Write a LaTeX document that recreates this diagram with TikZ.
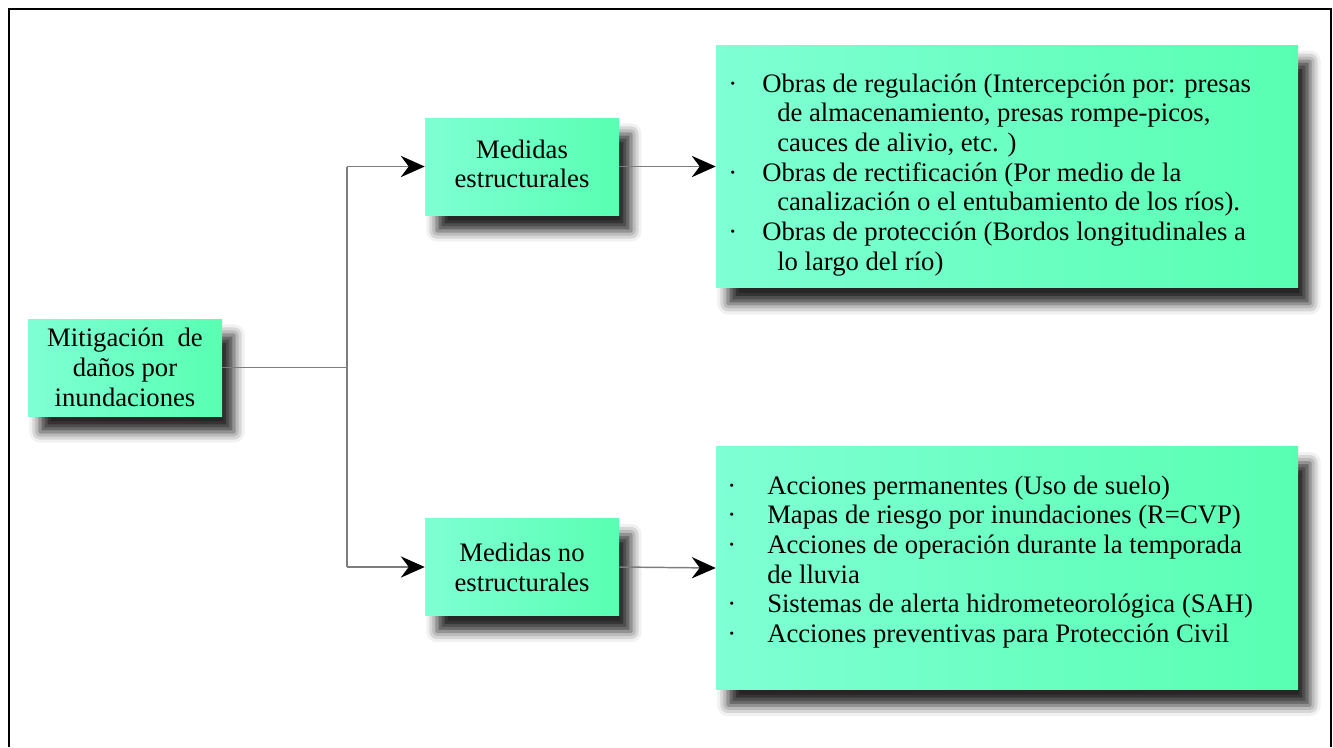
\documentclass[tikz,border=0pt]{standalone}
\usepackage{fontspec}
\setmainfont{Liberation Serif}
\usetikzlibrary{arrows.meta,shadows.blur}
\definecolor{gl}{RGB}{127,255,212}
\definecolor{gr}{RGB}{88,255,178}
\definecolor{conn}{RGB}{125,125,125}
\begin{document}
\begin{tikzpicture}[x=0.75pt,y=-0.75pt,
  box/.style={rectangle, inner sep=0pt, left color=gl, right color=gr, draw=none,
    blur shadow={shadow xshift=9pt, shadow yshift=-12pt, shadow blur radius=8pt, shadow opacity=85},
    align=center, font=\fontsize{20}{22.3}\selectfont},
  smallbox/.style={box, minimum width=145.5pt, minimum height=72.75pt},
  bigbox/.style={box, minimum width=436.5pt, minimum height=182pt},
  txt/.style={inner sep=0pt, anchor=base west, font=\fontsize{20}{22.3}\selectfont},
  conline/.style={draw=conn, line width=1.1pt},
  arr/.style={conline, -{Stealth[length=18pt,width=16pt,inset=6pt,black]}}
]
\useasboundingbox (0,0) rectangle (1333,747);
\draw[line width=2pt] (9,747) -- (9,9) -- (1331,9) -- (1331,747);

\node[smallbox] (root) at (125,367.5) {Mitigación\ \ de\\daños por\\inundaciones};
\node[smallbox] (m1) at (522,166.5) {Medidas\\estructurales\rule[-4pt]{0pt}{1pt}};
\node[smallbox] (m2) at (522,567) {Medidas no\\estructurales};
\node[bigbox] (r1) at (1007,166.5) {};
\node[bigbox] (r2) at (1007,568) {};

\node[txt] (t1) at (728,92) {\begin{tabular}[t]{@{}p{25.5pt}@{}l@{}}
· & Obras de regulación (Intercepción por: presas\\
  & \hspace*{11.25pt}de almacenamiento, presas rompe-picos,\\
  & \hspace*{11.25pt}cauces de alivio, etc. )\\
· & Obras de rectificación (Por medio de la\\
  & \hspace*{11.25pt}canalización o el entubamiento de los ríos).\\
· & Obras de protección (Bordos longitudinales a\\
  & \hspace*{11.25pt}lo largo del río)
\end{tabular}};

\node[txt] (t2) at (727,494) {\begin{tabular}[t]{@{}p{30pt}@{}l@{}}
· & Acciones permanentes (Uso de suelo)\\
· & Mapas de riesgo por inundaciones (R=CVP)\\
· & Acciones de operación durante la temporada\\
  & de lluvia\\
· & Sistemas de alerta hidrometeorológica (SAH)\\
· & Acciones preventivas para Protección Civil
\end{tabular}};

\coordinate (jt) at (347,166.5);
\coordinate (jb) at (347,567);
\draw[conline] (root.east) -- (root.east -| jt);
\draw[conline] (jt) -- (jb);
\draw[arr] (jt) -- (m1.west);
\draw[arr] (jb) -- (m2.west);
\draw[arr] (m1.east) -- (r1.west);
\draw[arr] (m2.east) -- (r2.west);
\end{tikzpicture}
\end{document}
